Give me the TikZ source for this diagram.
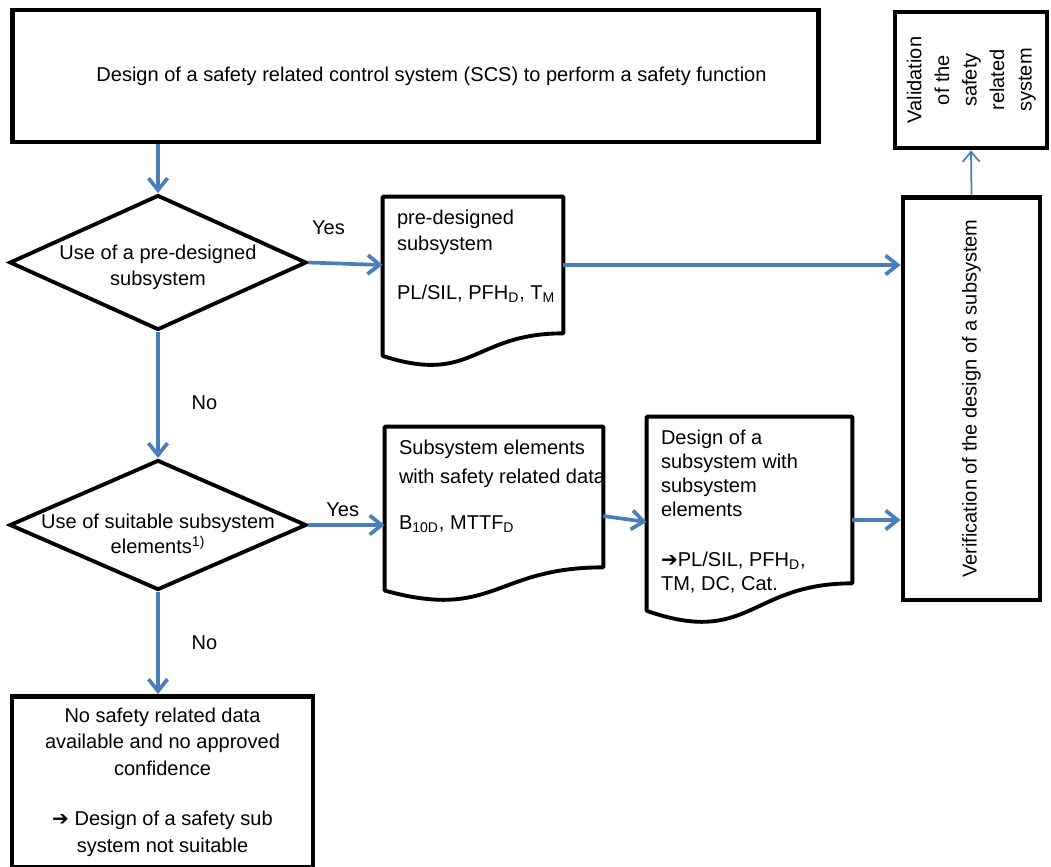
\documentclass[tikz,border=0pt]{standalone}
\usepackage{fontspec}
\setmainfont{Liberation Sans}
\newfontfamily\symfont{DejaVu Sans}
\usetikzlibrary{shapes.geometric,arrows.meta,calc,positioning}

\definecolor{flowblue}{RGB}{74,126,187}

\tikzset{
  box/.style={draw,line width=2.8pt,align=center,inner sep=0pt},
  decision/.style={diamond,draw,line width=2.2pt,inner sep=0pt},
  docbox/.style={inner xsep=0.28cm,inner ysep=0.26cm},
  docline/.style={line width=2.2pt,line join=round},
  flow/.style={draw=flowblue,line width=2.1pt,-{Straight Barb[length=2.4mm,width=3.8mm]}},
  thinflow/.style={draw=flowblue,line width=1pt,-{Straight Barb[length=2mm,width=3.4mm]}},
  answer/.style={inner sep=1pt}
}

% text block of a document shape: height, width, text
\newcommand\docpar[3]{\parbox[c][#1][t]{#2}{\raggedright #3}}
% outline of a document shape round a node
\newcommand\docoutline[1]{%
  \draw[docline] (#1.north west) -- (#1.north east) -- (#1.south east)
    .. controls (#1.south) and ($(#1.south)!-0.38!(#1.north)$)
    .. ($(#1.south west)!-0.165!(#1.north west)$) -- cycle;}
\newcommand\arr{{\symfont\bfseries ➔}}

\begin{document}
\begin{tikzpicture}[x=0.02cm,y=-0.02cm,font=\fontsize{11.4}{14.5}\selectfont]
  \useasboundingbox (0,0) rectangle (1051,866);

  \node[box,minimum width=16.14cm,minimum height=2.64cm] (scs) at (415.5,76)
    {\hspace*{0.64cm}Design of a safety related control system (SCS) to perform a safety function};
  \node[box,minimum width=3.04cm,minimum height=2.72cm] (valid) at (971,80)
    {\rotatebox{90}{\def\arraystretch{1.08}\begin{tabular}{@{}c@{}}Validation\\of the\\safety\\related\\system\end{tabular}}};
  \node[box,minimum width=2.74cm,minimum height=8.06cm] (verif) at (971.5,398.5)
    {\rotatebox{90}{Verification of the design of a subsystem}};

  \node[decision,minimum width=5.94cm,minimum height=2.7cm,
    label={[align=center,yshift=-0.1cm]center:Use of a pre-designed\\subsystem}] (predes) at (158,262.5) {};
  \node[decision,minimum width=5.94cm,minimum height=2.6cm,
    label={[align=center,yshift=-0.18cm]center:Use of suitable subsystem\\elements\textsuperscript{1)}}] (suitable) at (158,525) {};

  \node[docbox] (presub) at (473,265)
    {\docpar{2.2cm}{3.04cm}{\fontsize{11.4}{14.7}\selectfont pre-designed\\subsystem\\[13pt]\mbox{PL/SIL, PFH\textsubscript{D}, T\textsubscript{M}}}};
  \node[docbox] (elem) at (494,497)
    {\docpar{2.28cm}{3.8cm}{\fontsize{11.4}{16.4}\selectfont Subsystem elements\\\mbox{with safety related data}\\[9.7pt]B\textsubscript{10D}, MTTF\textsubscript{D}}};
  \node[docbox] (design) at (749.5,500)
    {\docpar{2.8cm}{3.54cm}{\fontsize{11.4}{13.6}\selectfont Design of a\\subsystem with\\subsystem\\elements\\[14.8pt]\arr PL/SIL, PFH\textsubscript{D},\\TM, DC, Cat.}};
  \docoutline{presub}
  \docoutline{elem}
  \docoutline{design}

  \node[box,minimum width=6.02cm,minimum height=3.42cm,font=\fontsize{11.4}{15.3}\selectfont] (nodata) at (162.5,782)
    {No safety related data\\available and no approved\\confidence\\[13pt]\arr{} Design of a safety sub\\system not suitable};

  \draw[flow] (scs.south -| predes.north) -- (predes.north);
  \draw[flow] (predes.south) -- node[answer,pos=0.56,right=0.6cm] {No} (suitable.north);
  \draw[flow] (suitable.south) -- node[answer,pos=0.5,right=0.6cm] {No} (suitable.south |- nodata.north);
  \draw[flow] (predes.east) -- node[answer,pos=0.27,above=0.5cm] {Yes} (presub.west);
  \draw[flow] (presub.east) -- (presub.east -| verif.west);
  \draw[flow] (suitable.east) -- node[answer,pos=0.45,above=0.1cm] {Yes} (suitable.east -| elem.west);
  \draw[flow] ([yshift=-0.38cm]elem.east) -- ([yshift=-0.44cm]design.west);
  \draw[flow] ([yshift=-0.4cm]design.east) -- ([yshift=-0.4cm]design.east -| verif.west);
  \draw[thinflow] (verif.north) -- (valid.south);
\end{tikzpicture}
\end{document}
